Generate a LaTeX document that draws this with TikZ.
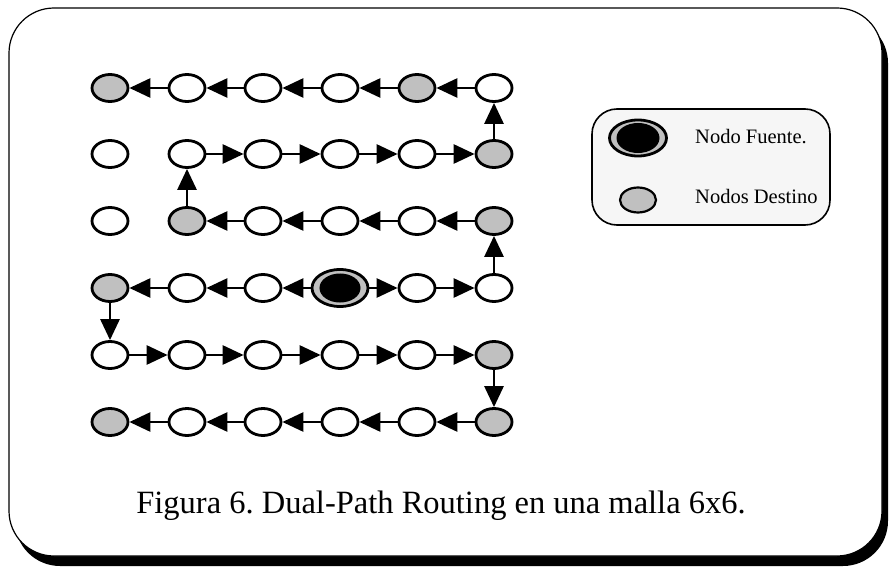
\documentclass[tikz,border=0pt]{standalone}
\usepackage{fontspec}
\setmainfont{Liberation Serif}
\usetikzlibrary{arrows.meta,shapes.geometric}
\definecolor{destgray}{RGB}{192,192,192}
\definecolor{legendbg}{RGB}{246,246,246}
\frenchspacing
\begin{document}
\begin{tikzpicture}[x=1pt,y=-1pt,
  cell/.style={ellipse,draw,line width=2.8pt,fill=white,minimum width=36pt,minimum height=27pt,inner sep=0pt},
  dest/.style={cell,fill=destgray},
  src/.style={ellipse,draw,line width=2.8pt,fill=destgray,minimum width=56pt,minimum height=37pt,inner sep=0pt},
  srccore/.style={ellipse,draw,line width=1pt,fill=black,minimum width=40pt,minimum height=28pt,inner sep=0pt},
  link/.style={line width=2.8pt,-{Triangle[length=21pt,width=19pt]}},
  legendtext/.style={anchor=base west,inner sep=0pt,font=\fontsize{20.5}{24}\selectfont},
]
\useasboundingbox (0,0) rectangle (889,567);

% outer frame with its drop shadow
\fill[black,rounded corners=45pt] (15,18) rectangle (888,566);
\draw[line width=1.2pt,fill=white,rounded corners=45pt] (9,8) rectangle (882,556);

% row 1
\node[dest] (n11) at (110,88) {};
\node[cell] (n12) at (187,88) {};
\node[cell] (n13) at (263,88) {};
\node[cell] (n14) at (340,88) {};
\node[dest] (n15) at (417,88) {};
\node[cell] (n16) at (494,88) {};
% row 2
\node[cell] (n21) at (110,154) {};
\node[cell] (n22) at (187,154) {};
\node[cell] (n23) at (263,154) {};
\node[cell] (n24) at (340,154) {};
\node[cell] (n25) at (417,154) {};
\node[dest] (n26) at (494,154) {};
% row 3
\node[cell] (n31) at (110,221) {};
\node[dest] (n32) at (187,221) {};
\node[cell] (n33) at (263,221) {};
\node[cell] (n34) at (340,221) {};
\node[cell] (n35) at (417,221) {};
\node[dest] (n36) at (494,221) {};
% row 4
\node[dest] (n41) at (110,288) {};
\node[cell] (n42) at (187,288) {};
\node[cell] (n43) at (263,288) {};
\node[src]  (n44) at (340,288) {};
\node[srccore] (n44c) at (340,288) {};
\node[cell] (n45) at (417,288) {};
\node[cell] (n46) at (494,288) {};
% row 5
\node[cell] (n51) at (110,355) {};
\node[cell] (n52) at (187,355) {};
\node[cell] (n53) at (263,355) {};
\node[cell] (n54) at (340,355) {};
\node[cell] (n55) at (417,355) {};
\node[dest] (n56) at (494,355) {};
% row 6
\node[dest] (n61) at (110,422) {};
\node[cell] (n62) at (187,422) {};
\node[cell] (n63) at (263,422) {};
\node[cell] (n64) at (340,422) {};
\node[cell] (n65) at (417,422) {};
\node[dest] (n66) at (494,422) {};

% first path: source eastwards, then snaking upwards
\draw[link] (n44) -- (n45);
\draw[link] (n45) -- (n46);
\draw[link] (n46) -- (n36);
\draw[link] (n36) -- (n35);
\draw[link] (n35) -- (n34);
\draw[link] (n34) -- (n33);
\draw[link] (n33) -- (n32);
\draw[link] (n32) -- (n22);
\draw[link] (n22) -- (n23);
\draw[link] (n23) -- (n24);
\draw[link] (n24) -- (n25);
\draw[link] (n25) -- (n26);
\draw[link] (n26) -- (n16);
\draw[link] (n16) -- (n15);
\draw[link] (n15) -- (n14);
\draw[link] (n14) -- (n13);
\draw[link] (n13) -- (n12);
\draw[link] (n12) -- (n11);

% second path: source westwards, then snaking downwards
\draw[link] (n44) -- (n43);
\draw[link] (n43) -- (n42);
\draw[link] (n42) -- (n41);
\draw[link] (n41) -- (n51);
\draw[link] (n51) -- (n52);
\draw[link] (n52) -- (n53);
\draw[link] (n53) -- (n54);
\draw[link] (n54) -- (n55);
\draw[link] (n55) -- (n56);
\draw[link] (n56) -- (n66);
\draw[link] (n66) -- (n65);
\draw[link] (n65) -- (n64);
\draw[link] (n64) -- (n63);
\draw[link] (n63) -- (n62);
\draw[link] (n62) -- (n61);

% legend
\draw[line width=1.6pt,fill=legendbg,rounded corners=25pt] (592,109) rectangle (830,225);
\node[src,minimum width=57pt,minimum height=36pt] (lsrc) at (638,138) {};
\node[srccore,minimum width=42pt,minimum height=29pt] (lsrcc) at (638,138) {};
\node[dest,line width=2.2pt,minimum width=36pt,minimum height=25pt] (ldst) at (638,200) {};
\node[legendtext] (lsrct) at (695,143) {Nodo Fuente.};
\node[legendtext] (ldstt) at (695,203) {Nodos Destino};

% caption
\node[anchor=base,inner sep=0pt,font=\fontsize{32.5}{38}\selectfont] (cap) at (441,513)
  {Figura 6. Dual-Path Routing en una malla 6x6.};
\end{tikzpicture}
\end{document}
